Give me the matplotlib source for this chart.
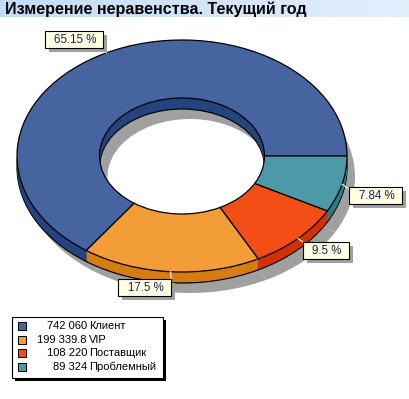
import matplotlib
matplotlib.use('Agg')
import matplotlib.pyplot as plt
from matplotlib.patches import Rectangle
from matplotlib.colors import LinearSegmentedColormap
import numpy as np

# данные
categories = ['Клиент', 'VIP', 'Поставщик', 'Проблемный']
values = [742060, 199339.8, 108220, 89324]
pct_labels = ['65.15 %', '17.5 %', '9.5 %', '7.84 %']
top_colors = ['#4665A0', '#F29D38', '#F24E16', '#4E99A8']
side_colors = ['#23447E', '#D57D12', '#D23000', '#2C7B8B']

title = 'Измерение неравенства. Текущий год'

W, H = 410, 399
cx, cy = 182, 156      # центр эллипса, px
rx, ry = 165, 116      # полуоси, px
depth = 11
sh_dx, sh_dy = 8, 10

plt.rcParams['font.family'] = ['Liberation Sans', 'DejaVu Sans']

fig = plt.figure(figsize=(W / 100, H / 100), dpi=100)

# оси пирога: единичный круг -> эллипс
pax = fig.add_axes([0, 0, 1, 1])
pax.axis('off')

def fmt(v):
    if float(v).is_integer():
        return f'{int(v):,}'.replace(',', ' ')
    return f'{v:,}'.replace(',', ' ')

# тень
pax.pie(values, radius=1, center=(sh_dx / rx, -(depth + sh_dy) / ry),
        colors=['#A0A0A0'] * 4, startangle=0, counterclock=True,
        wedgeprops=dict(width=0.5, linewidth=0))
# боковая стенка
for k in range(depth, 0, -1):
    lw = 0.9 if k == depth else 0
    pax.pie(values, radius=1, center=(0, -k / ry), colors=side_colors,
            startangle=0, counterclock=True,
            wedgeprops=dict(width=0.5, edgecolor='black', linewidth=lw))
# верх
wedges, _ = pax.pie(values, radius=1, center=(0, 0), colors=top_colors,
                    startangle=0, counterclock=True,
                    wedgeprops=dict(width=0.5, edgecolor='black', linewidth=0.9))
pax.set_aspect('auto')
pax.set_xlim((0 - cx) / rx, (W - cx) / rx)
pax.set_ylim((cy - H) / ry, (cy - 0) / ry)

# оверлей в пикселях
ax = fig.add_axes([0, 0, 1, 1], zorder=5)
ax.axis('off')
ax.patch.set_alpha(0)

# заголовок
grad = np.linspace(0, 1, 256).reshape(1, -1)
cm = LinearSegmentedColormap.from_list('tb', ['#C4DBF6', '#E3EFFD'])
ax.imshow(grad, extent=(0, W, 17, 0), aspect='auto', cmap=cm, zorder=1)
ax.text(5, 9, title, fontsize=11.6, fontweight='bold', color='black',
        ha='left', va='center', zorder=2)
ax.set_xlim(0, W)
ax.set_ylim(H, 0)

# подписи процентов
boxes = [(45, 31, 58, 17), (118, 279, 53, 17), (303, 242, 46, 17), (349, 187, 53, 17)]
anchors = [(103, 40), (171, 279), (303, 242), (349, 189)]
angles = []
start = 0
total = sum(values)
for v in values:
    a = start + 360 * v / total / 2
    angles.append(np.radians(a))
    start += 360 * v / total
for i, lab in enumerate(pct_labels):
    x, y, w, h = boxes[i]
    ex = cx + rx * np.cos(angles[i])
    ey = cy - ry * np.sin(angles[i])
    ax.plot([ex, anchors[i][0]], [ey, anchors[i][1]], color='white', lw=0.8, zorder=3)
    ax.add_patch(Rectangle((x + 4, y + 4), w, h, facecolor='#A0A0A0', edgecolor='none', zorder=3))
    ax.add_patch(Rectangle((x, y), w, h, facecolor='#FFFFE1', edgecolor='black', lw=0.8, zorder=4))
    ax.text(x + w / 2 + 1, y + h / 2 + 0.5, lab, fontsize=8.3, color='#1A2060',
            ha='center', va='center', zorder=5)

# легенда
lx, ly, lw_, lh = 12, 317, 151, 61
ax.add_patch(Rectangle((lx + 3, ly + 3), lw_, lh, facecolor='black', edgecolor='none', zorder=3))
ax.add_patch(Rectangle((lx, ly), lw_, lh, facecolor='white', edgecolor='black', lw=0.8, zorder=4))
rows = [326, 340, 353, 367]
for i, name in enumerate(categories):
    yy = rows[i]
    ax.add_patch(Rectangle((19, yy - 3), 8, 8, facecolor='#A0A0A0', edgecolor='none', zorder=5))
    ax.add_patch(Rectangle((18, yy - 4), 8, 8, facecolor=top_colors[i], edgecolor='black', lw=0.7, zorder=6))
    ax.text(87, yy, fmt(values[i]), fontsize=8, ha='right', va='center', zorder=6)
    ax.text(89, yy, name, fontsize=8, ha='left', va='center', zorder=6)

fig.savefig('out.png', dpi=100)
